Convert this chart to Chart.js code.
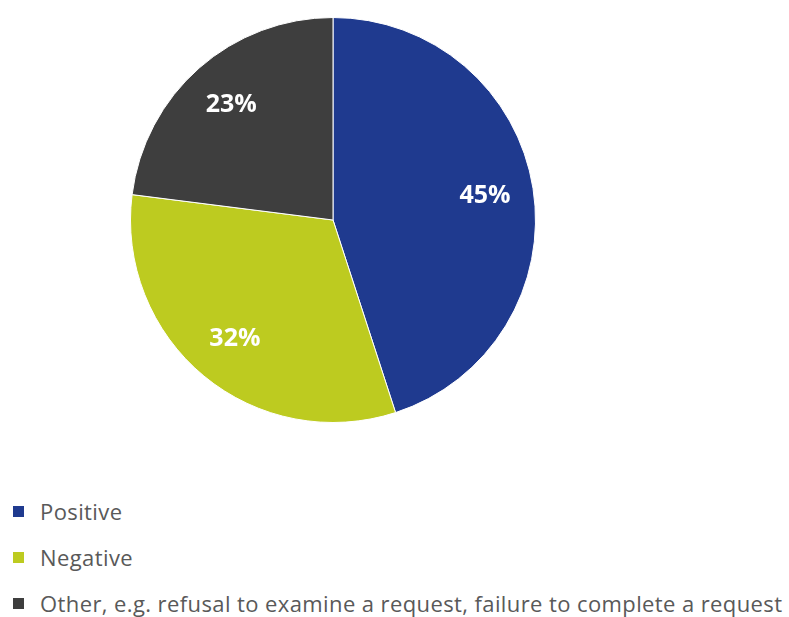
<!DOCTYPE html>
<html>
<head>
<meta charset="utf-8">
<script src="https://cdn.jsdelivr.net/npm/chart.js@4.4.1/dist/chart.umd.min.js"></script>
<style>
  body { margin: 0; background: #fff; width: 789px; height: 617px; overflow: hidden; position: relative; }
  #wrap { position: absolute; left: 0; top: 0; width: 666px; height: 440px; }
  #legend { position: absolute; left: 13px; top: 488px; font-family: "Open Sans", sans-serif; font-size: 22px; letter-spacing: 0.4px; color: #595959; }
  .item { display: flex; align-items: center; height: 46px; white-space: nowrap; }
  .box { width: 11px; height: 11px; margin-right: 16px; }
</style>
</head>
<body>
<div id="wrap"><canvas id="myChart"></canvas></div>
<div id="legend"></div>
<script>
const categories = ["Positive", "Negative", "Other, e.g. refusal to examine a request, failure to complete a request"];
const shares = [45, 32, 23];
const colors = ["#1f3a8f", "#bdcb20", "#3e3e3e"];

// legend as plain html rows
const legend = document.getElementById("legend");
categories.forEach((name, i) => {
    const row = document.createElement("div");
    row.className = "item";
    row.innerHTML = '<span class="box" style="background:' + colors[i] + '"></span><span>' + name + '</span>';
    legend.appendChild(row);
});

const sliceLabels = {
    id: "sliceLabels",
    afterDatasetsDraw(chart) {
        const ctx = chart.ctx;
        const meta = chart.getDatasetMeta(0);
        ctx.save();
        ctx.font = "bold 25px 'Open Sans', sans-serif";
        ctx.fillStyle = "#ffffff";
        ctx.textAlign = "center";
        ctx.textBaseline = "middle";
        meta.data.forEach((arc, i) => {
            const mid = (arc.startAngle + arc.endAngle) / 2;
            const r = arc.outerRadius * 0.76;
            ctx.fillText(shares[i] + "%", arc.x + Math.cos(mid) * r, arc.y + Math.sin(mid) * r);
        });
        ctx.restore();
    }
};

new Chart(document.getElementById("myChart"), {
    type: "pie",
    data: {
        labels: categories,
        datasets: [{
            data: shares,
            backgroundColor: colors,
            borderColor: "#ffffff",
            borderWidth: 1
        }]
    },
    options: {
        responsive: true,
        maintainAspectRatio: false,
        animation: false,
        layout: { padding: { top: 17, bottom: 17 } },
        plugins: {
            legend: { display: false },
            tooltip: { enabled: false }
        }
    },
    plugins: [sliceLabels]
});
</script>
</body>
</html>
